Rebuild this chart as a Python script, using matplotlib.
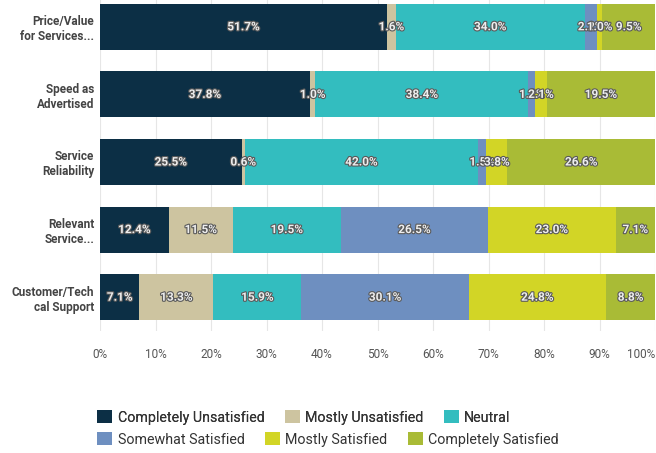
import matplotlib
matplotlib.use("Agg")
import matplotlib.pyplot as plt
import matplotlib.patheffects as pe
from matplotlib.patches import Patch
import numpy as np

categories = ["Price/Value\nfor Services...", "Speed as\nAdvertised", "Service\nReliability",
              "Relevant\nService...", "Customer/Tech\ncal Support"]
series_names = ["Completely Unsatisfied", "Mostly Unsatisfied", "Neutral",
                "Somewhat Satisfied", "Mostly Satisfied", "Completely Satisfied"]
completely_unsatisfied = [51.7, 37.8, 25.5, 12.4, 7.1]
mostly_unsatisfied = [1.6, 1.0, 0.6, 11.5, 13.3]
neutral = [34.0, 38.4, 42.0, 19.5, 15.9]
somewhat_satisfied = [2.2, 1.2, 1.5, 26.5, 30.1]
mostly_satisfied = [1.0, 2.1, 3.8, 23.0, 24.8]
completely_satisfied = [9.5, 19.5, 26.6, 7.1, 8.8]
xtick_labels = ["0%", "10%", "20%", "30%", "40%", "50%", "60%", "70%", "80%", "90%", "100%"]

colors = ["#0c2f45", "#cdc4a0", "#33bdbf", "#6e8fc0", "#d2d526", "#a9bb36"]
series = [completely_unsatisfied, mostly_unsatisfied, neutral,
          somewhat_satisfied, mostly_satisfied, completely_satisfied]

plt.rcParams['font.family'] = ['Roboto', 'DejaVu Sans']

fig = plt.figure(figsize=(6.56, 4.53), dpi=100)
ax = fig.add_axes([100/656, 1 - 331/453, 555/656, 338/453])

y = np.arange(len(categories))
left = np.zeros(len(categories))
for name, vals, col in zip(series_names, series, colors):
    vals = np.array(vals)
    bars = ax.barh(y, vals, left=left, height=0.68, color=col, label=name, zorder=2)
    texts = ax.bar_label(bars, labels=[f"{v:.1f}%" for v in vals], label_type='center',
                         fontsize=8.5, color='#eeeeee', fontweight='bold')
    for t in texts:
        t.set_path_effects([pe.withStroke(linewidth=1.6, foreground='#5a5a5a')])
    left += vals

ax.set_xlim(0, 100)
ax.set_ylim(len(categories) - 0.5, -0.5)
ax.set_yticks(y)
ax.set_yticklabels(categories, fontsize=8.5, color='#444444', fontweight='bold')
ax.set_xticks(np.arange(0, 101, 10))
xl = ax.set_xticklabels(xtick_labels, fontsize=8.5, color='#555555')
xl[-1].set_horizontalalignment('right')
ax.tick_params(axis='both', length=0)
ax.tick_params(axis='x', pad=12)
ax.tick_params(axis='y', pad=4)
for s in ax.spines.values():
    s.set_visible(False)
ax.grid(axis='x', color='#e6e6e6', linewidth=0.8, zorder=0)
ax.set_axisbelow(True)

handles = [Patch(facecolor=c, edgecolor='none') for c in colors]
leg_kw = dict(ncol=3, loc='upper left', frameon=False, fontsize=10.3,
              handlelength=1.05, handleheight=1.05, handletextpad=0.4,
              columnspacing=1.4, borderaxespad=0, borderpad=0)
leg1 = fig.legend(handles[:3], series_names[:3], bbox_to_anchor=(97/656, 1 - 410/453), **leg_kw)
for t in leg1.get_texts():
    t.set_color('#333333')
leg2 = fig.legend(handles[3:], series_names[3:], bbox_to_anchor=(97/656, 1 - 432/453), **leg_kw)
for t in leg2.get_texts():
    t.set_color('#333333')
fig.add_artist(leg1)

fig.savefig("out.png", dpi=100)
